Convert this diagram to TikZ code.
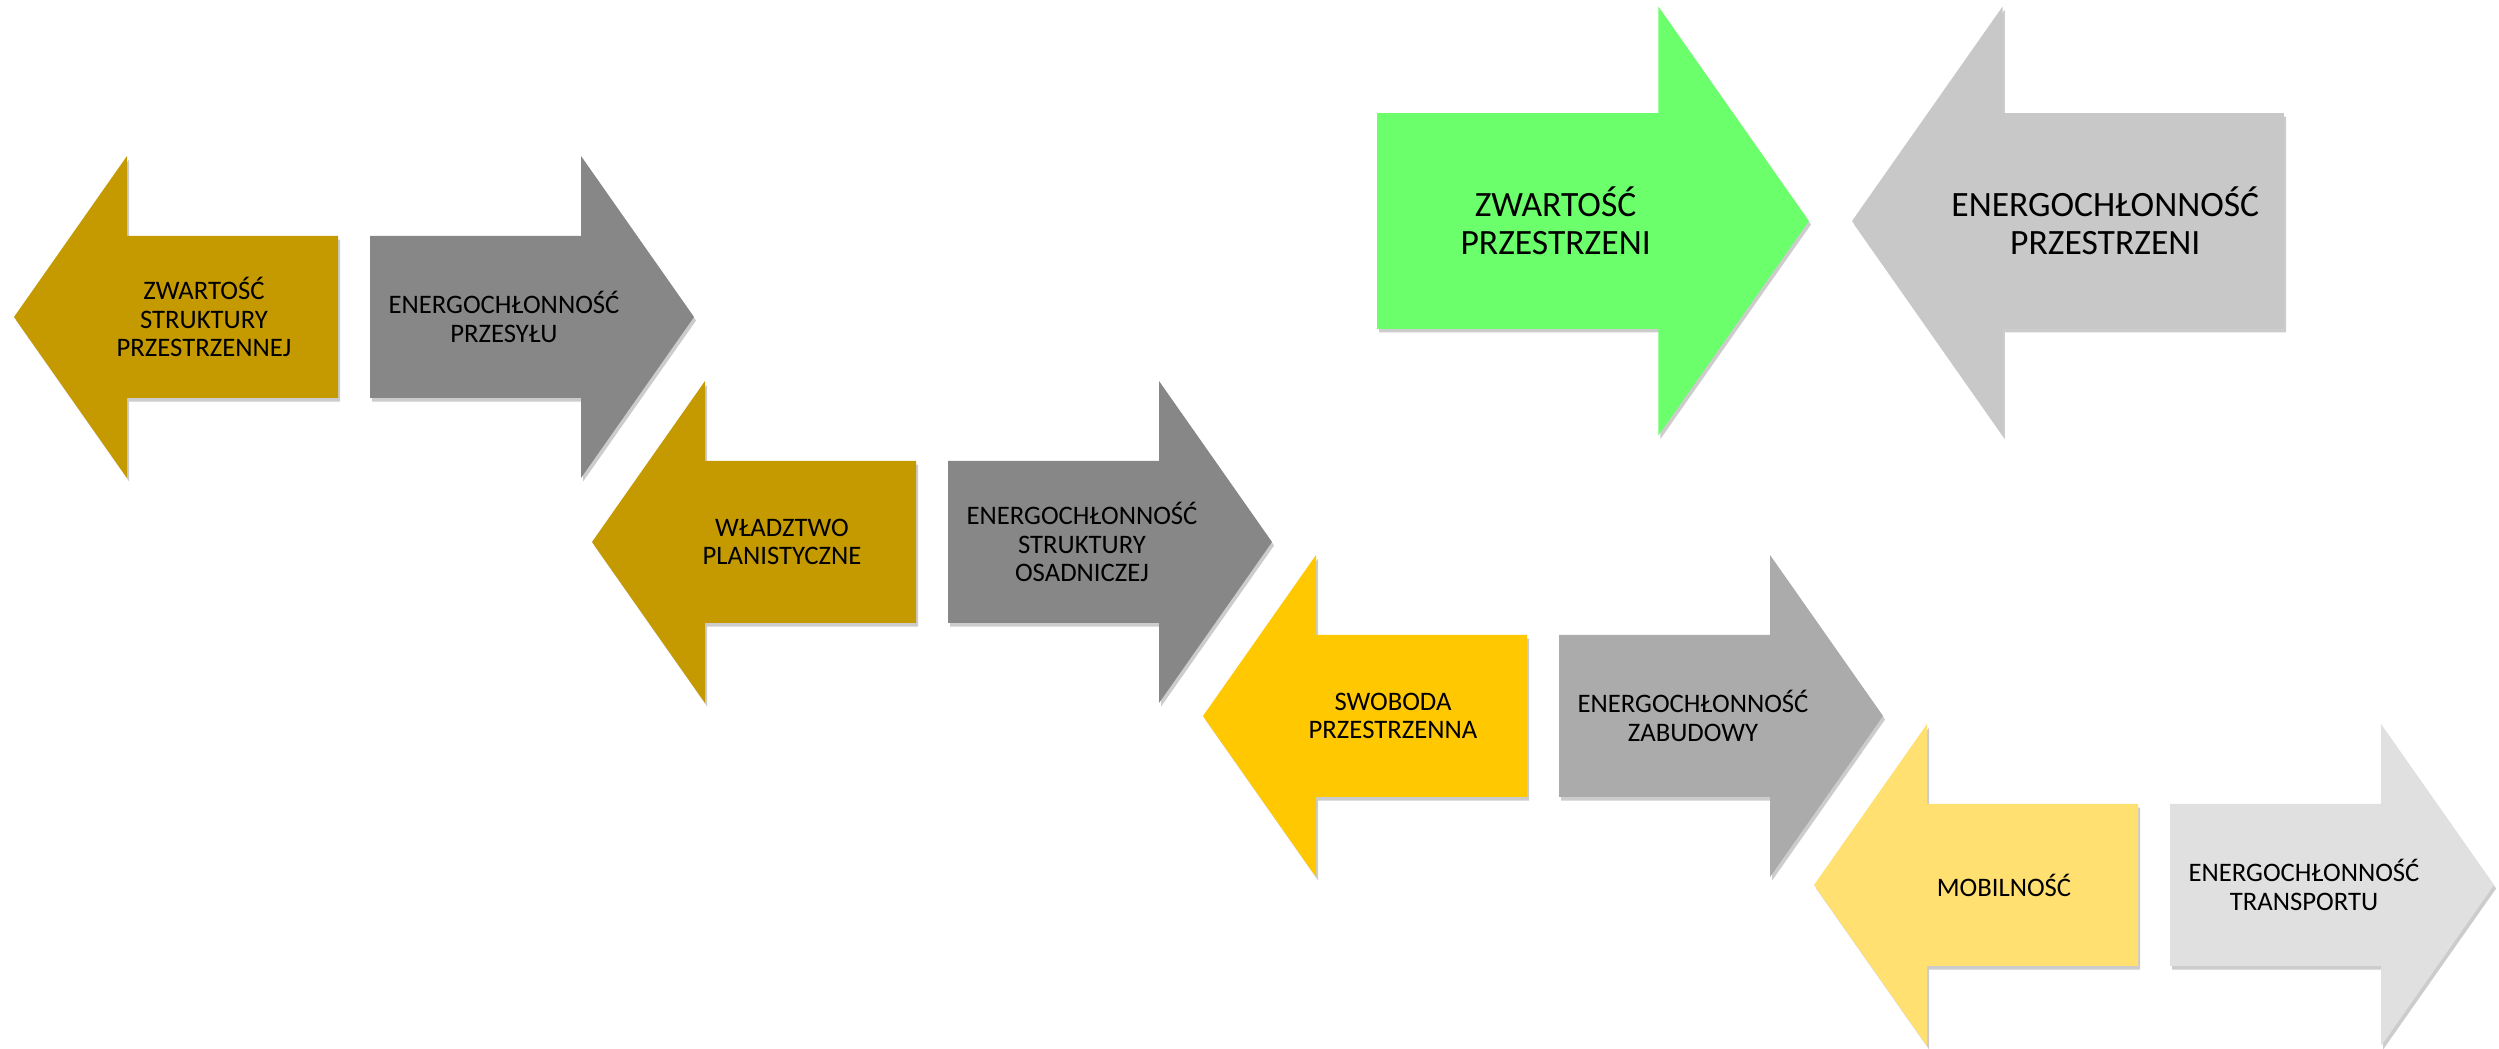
\documentclass[tikz,border=0pt]{standalone}
\usepackage{fontspec}
\setmainfont{Carlito}
\usetikzlibrary{shadows}
\definecolor{zloty}{HTML}{C59A00}
\definecolor{szaryA}{HTML}{878787}
\definecolor{zolty}{HTML}{FFC800}
\definecolor{szaryB}{HTML}{ABABAB}
\definecolor{zoltyJasny}{HTML}{FFE070}
\definecolor{szaryC}{HTML}{E0E0E0}
\definecolor{zielony}{HTML}{6CFF6C}
\definecolor{szaryD}{HTML}{C8C8C8}
\tikzset{
    cien/.style = {
        drop shadow = {shadow xshift=0.6pt, shadow yshift=-1pt, opacity=0.2, fill=black},
        },
    napis/.style = {
        inner sep = 0pt,
        align = center,
        text = black,
        font = \fontsize{7.6}{8.1}\selectfont,
        },
    duza/.style = {
        scale = 1.333,
        transform shape,
        },
    pics/lewa/.style 2 args = {
        code = {
            \fill[fill=#1, cien] (0,0) -- (1.13,1.61) -- (1.13,0.81) -- (3.24,0.81)
                -- (3.24,-0.81) -- (1.13,-0.81) -- (1.13,-1.61) -- cycle;
            \node[napis] (-napis) at (1.90,0) {#2};
        }
        },
    pics/prawa/.style 2 args = {
        code = {
            \fill[fill=#1, cien] (0,0.81) -- (2.11,0.81) -- (2.11,1.61) -- (3.24,0)
                -- (2.11,-1.61) -- (2.11,-0.81) -- (0,-0.81) -- cycle;
            \node[napis] (-napis) at (1.34,0) {#2};
        }
        },
}
\begin{document}
\begin{tikzpicture}
            \useasboundingbox (0,0) rectangle (24.99,-10.49);

            \pic (zsp) at (0.14,-3.17) {lewa={zloty}{ZWARTOŚĆ\\STRUKTURY\\PRZESTRZENNEJ}};
            \pic (eprz) at (3.70,-3.17) {prawa={szaryA}{ENERGOCHŁONNOŚĆ\\PRZESYŁU}};
            \pic (wpl) at (5.92,-5.42) {lewa={zloty}{WŁADZTWO\\PLANISTYCZNE}};
            \pic (eso) at (9.48,-5.42) {prawa={szaryA}{ENERGOCHŁONNOŚĆ\\STRUKTURY\\OSADNICZEJ}};
            \pic (swp) at (12.03,-7.16) {lewa={zolty}{SWOBODA\\PRZESTRZENNA}};
            \pic (ezab) at (15.59,-7.16) {prawa={szaryB}{ENERGOCHŁONNOŚĆ\\ZABUDOWY}};
            \pic (mob) at (18.14,-8.85) {lewa={zoltyJasny}{MOBILNOŚĆ}};
            \pic (etr) at (21.70,-8.85) {prawa={szaryC}{ENERGOCHŁONNOŚĆ\\TRANSPORTU}};

            \pic[duza] (zpr) at (13.77,-2.21) {prawa={zielony}{ZWARTOŚĆ\\PRZESTRZENI}};
            \pic[duza] (epr) at (18.52,-2.21) {lewa={szaryD}{ENERGOCHŁONNOŚĆ\\PRZESTRZENI}};
        \end{tikzpicture}
\end{document}
